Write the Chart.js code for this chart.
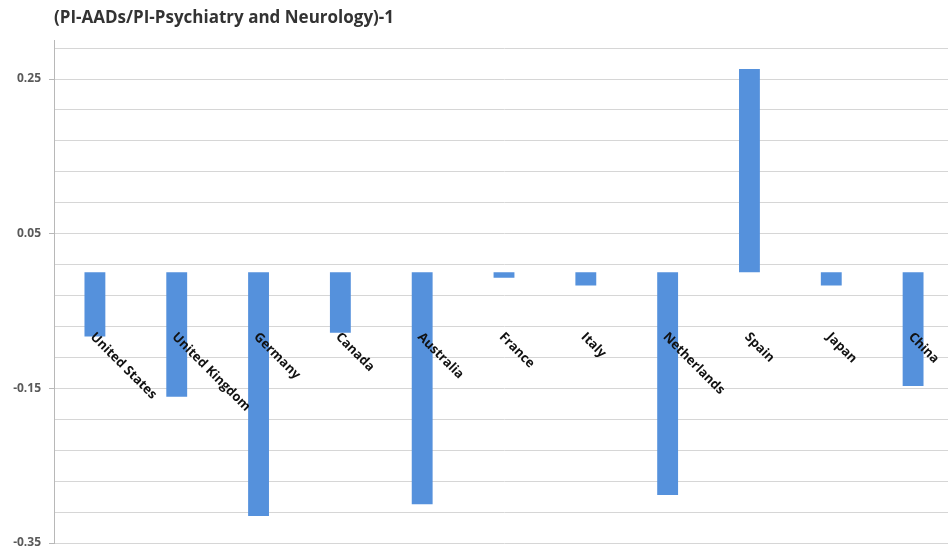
<!DOCTYPE html>
<html>
<head>
<meta charset="utf-8">
<script src="https://cdn.jsdelivr.net/npm/chart.js@4/dist/chart.umd.min.js"></script>
<style>
  html, body { margin: 0; padding: 0; background: #fff; overflow: hidden; }
</style>
</head>
<body>
<canvas id="ratioChart" width="954" height="553"></canvas>
<script>
// data
const countries = ['United States', 'United Kingdom', 'Germany', 'Canada', 'Australia',
    'France', 'Italy', 'Netherlands', 'Spain', 'Japan', 'China'];
const ratioValues = [-0.083, -0.161, -0.315, -0.078, -0.300, -0.007, -0.017, -0.288, 0.263, -0.017, -0.147];
const gridValues = [-0.35, -0.31, -0.27, -0.23, -0.19, -0.15, -0.11, -0.07, -0.03,
    0.01, 0.05, 0.09, 0.13, 0.17, 0.21, 0.25, 0.29];
const labeledTicks = [-0.35, -0.15, 0.05, 0.25];

const isLabeled = v => labeledTicks.some(t => Math.abs(t - v) < 1e-9);

Chart.defaults.font.family = "'Open Sans', sans-serif";

// category names sit below the zero line, turned 45 degrees clockwise
const catLabels = {
    id: 'catLabels',
    afterDatasetsDraw(chart) {
        const { ctx, scales: { x, y } } = chart;
        ctx.save();
        ctx.font = 'bold 13px "Open Sans"';
        ctx.fillStyle = '#111';
        ctx.textAlign = 'left';
        ctx.textBaseline = 'top';
        countries.forEach((name, i) => {
            ctx.save();
            ctx.translate(x.getPixelForValue(i) + 2, y.getPixelForValue(0) + 58);
            ctx.rotate(Math.PI / 4);
            ctx.fillText(name, 0, 0);
            ctx.restore();
        });
        ctx.restore();
    }
};

new Chart(document.getElementById('ratioChart'), {
    type: 'bar',
    data: {
        labels: countries,
        datasets: [{
            data: ratioValues,
            backgroundColor: '#5591dc',
            categoryPercentage: 1,
            barPercentage: 0.255
        }]
    },
    options: {
        responsive: false,
        animation: false,
        layout: { padding: { bottom: 10, right: 0 } },
        plugins: {
            legend: { display: false },
            tooltip: { enabled: false },
            title: {
                display: true,
                text: '(PI-AADs/PI-Psychiatry and Neurology)-1',
                align: 'start',
                fullSize: false,
                color: '#333',
                font: { size: 17, weight: 'bold' },
                padding: { top: 8, bottom: 12 }
            }
        },
        scales: {
            x: { display: false },
            y: {
                min: -0.35,
                max: 0.30,
                afterBuildTicks: scale => {
                    scale.ticks = gridValues.map(v => ({ value: v }));
                },
                afterFit: scale => {
                    scale.width = 54;
                    scale.paddingTop = 0;
                    scale.paddingBottom = 0;
                },
                ticks: {
                    color: '#595959',
                    font: { size: 12, weight: 'bold' },
                    padding: 8,
                    callback: v => isLabeled(v) ? String(v) : ''
                },
                grid: {
                    color: '#d6d6d6',
                    lineWidth: 1,
                    tickLength: 5,
                    tickColor: ctx => (ctx.tick && isLabeled(ctx.tick.value)) ? '#b8b8b8' : 'rgba(0,0,0,0)'
                },
                border: { color: '#b8b8b8', width: 1 }
            }
        }
    },
    plugins: [catLabels]
});
</script>
</body>
</html>
